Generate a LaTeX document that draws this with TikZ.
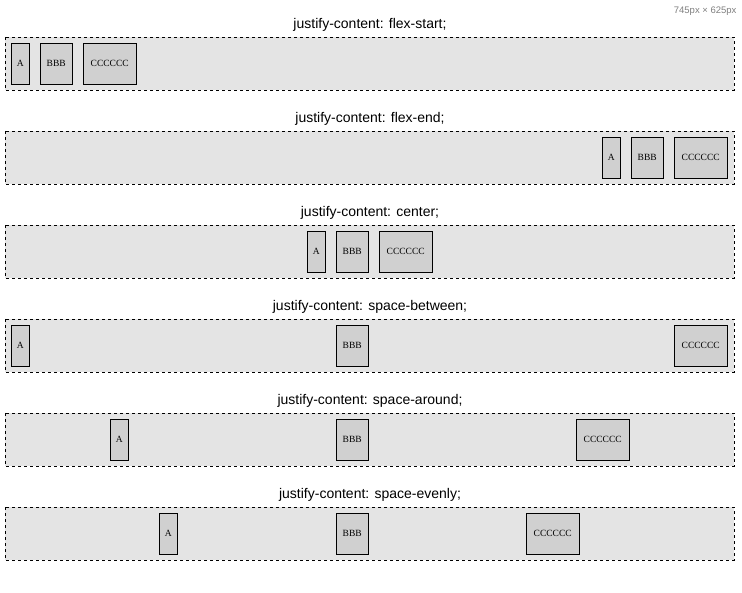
\documentclass[tikz,border=0pt]{standalone}
\usepackage{fontspec}
\setmainfont{Liberation Serif}
\newfontfamily\titlefont{Liberation Sans}
\definecolor{boxgray}{HTML}{E4E4E4}
\definecolor{itemgray}{HTML}{D0D0D0}
\tikzset{
  flexbox/.style={draw, dashed, fill=boxgray},
  flexitem/.style={draw, fill=itemgray, inner sep=0pt, font=\fontsize{9.5}{10}\selectfont},
  heading/.style={font=\titlefont\fontsize{14}{16}\selectfont, text=black},
}
\begin{document}
\begin{tikzpicture}[x=1pt,y=-1pt]
  \useasboundingbox[fill=white] (0,0) rectangle (742,593);
  \node[font=\titlefont\fontsize{9.5}{10}\selectfont, text=gray, anchor=north east] (size) at (740,3) {745px × 625px};
  % one row per justify-content value
  \foreach \k/\val/\xa/\xb/\xc in {0/flex-start/11/40/83, 1/flex-end/602/631/674, 2/center/307/336/379,
      3/space-between/11/336/674, 4/space-around/110/336/576, 5/space-evenly/159/336/526}{
    \pgfmathsetmacro{\top}{37+94*\k}
    \node[heading] (title\k) at (370,\top-12) {justify-content: \val;};
    \draw[flexbox] (5,\top) rectangle (734,\top+53);
    \node[flexitem, minimum width=18, minimum height=41, anchor=north west] (a\k) at (\xa,\top+6) {A};
    \node[flexitem, minimum width=32, minimum height=41, anchor=north west] (b\k) at (\xb,\top+6) {BBB};
    \node[flexitem, minimum width=53, minimum height=41, anchor=north west] (c\k) at (\xc,\top+6) {CCCCCC};
  }
\end{tikzpicture}
\end{document}
